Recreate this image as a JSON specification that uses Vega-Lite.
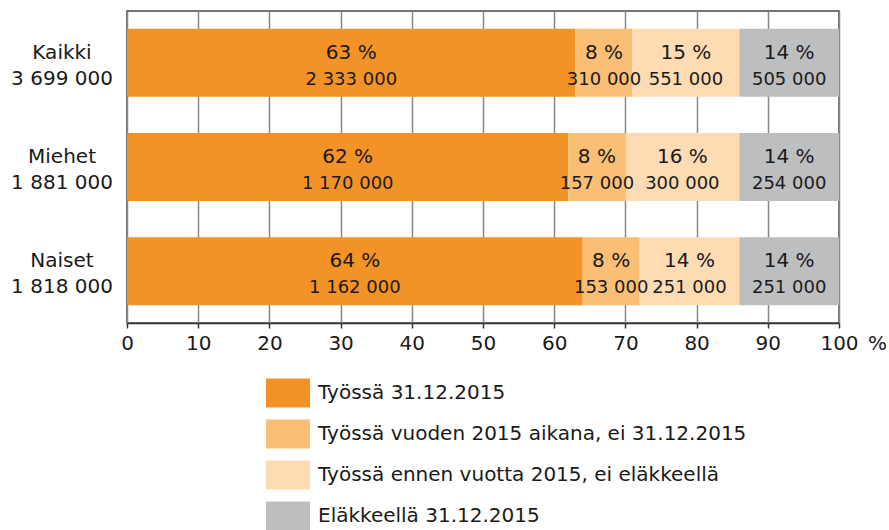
{
  "$schema": "https://vega.github.io/schema/vega-lite/v6.json",
  "width": 712,
  "height": 312,
  "autosize": {"type": "none"},
  "padding": {"left": 127, "top": 11, "right": 50, "bottom": 207},
  "config": {
    "font": "DejaVu Sans",
    "locale": {"number": {"decimal": ",", "thousands": "\u00a0", "grouping": [3], "currency": ["", "\u00a0€"]}},
    "view": {"stroke": "#444", "strokeWidth": 1.5},
    "text": {"color": "#1a1a1a"}
  },
  "data": {
    "values": [
      {"ryhma": "Kaikki", "yhteensa": 3699000, "luokka": "Työssä 31.12.2015", "j": 1, "osuus": 63, "lkm": 2333000},
      {"ryhma": "Kaikki", "yhteensa": 3699000, "luokka": "Työssä vuoden 2015 aikana, ei 31.12.2015", "j": 2, "osuus": 8, "lkm": 310000},
      {"ryhma": "Kaikki", "yhteensa": 3699000, "luokka": "Työssä ennen vuotta 2015, ei eläkkeellä", "j": 3, "osuus": 15, "lkm": 551000},
      {"ryhma": "Kaikki", "yhteensa": 3699000, "luokka": "Eläkkeellä 31.12.2015", "j": 4, "osuus": 14, "lkm": 505000},
      {"ryhma": "Miehet", "yhteensa": 1881000, "luokka": "Työssä 31.12.2015", "j": 1, "osuus": 62, "lkm": 1170000},
      {"ryhma": "Miehet", "yhteensa": 1881000, "luokka": "Työssä vuoden 2015 aikana, ei 31.12.2015", "j": 2, "osuus": 8, "lkm": 157000},
      {"ryhma": "Miehet", "yhteensa": 1881000, "luokka": "Työssä ennen vuotta 2015, ei eläkkeellä", "j": 3, "osuus": 16, "lkm": 300000},
      {"ryhma": "Miehet", "yhteensa": 1881000, "luokka": "Eläkkeellä 31.12.2015", "j": 4, "osuus": 14, "lkm": 254000},
      {"ryhma": "Naiset", "yhteensa": 1818000, "luokka": "Työssä 31.12.2015", "j": 1, "osuus": 64, "lkm": 1162000},
      {"ryhma": "Naiset", "yhteensa": 1818000, "luokka": "Työssä vuoden 2015 aikana, ei 31.12.2015", "j": 2, "osuus": 8, "lkm": 153000},
      {"ryhma": "Naiset", "yhteensa": 1818000, "luokka": "Työssä ennen vuotta 2015, ei eläkkeellä", "j": 3, "osuus": 14, "lkm": 251000},
      {"ryhma": "Naiset", "yhteensa": 1818000, "luokka": "Eläkkeellä 31.12.2015", "j": 4, "osuus": 14, "lkm": 251000}
    ]
  },
  "transform": [
    {"stack": "osuus", "groupby": ["ryhma"], "sort": [{"field": "j", "order": "ascending"}], "as": ["x0", "x1"]},
    {"calculate": "(datum.x0 + datum.x1) / 2", "as": "keski"},
    {"calculate": "datum.osuus + ' %'", "as": "osuusTeksti"}
  ],
  "encoding": {
    "y": {
      "field": "ryhma",
      "type": "nominal",
      "sort": ["Kaikki", "Miehet", "Naiset"],
      "scale": {"paddingInner": 0.346, "paddingOuter": 0.17},
      "axis": null
    }
  },
  "layer": [
    {
      "mark": {"type": "bar"},
      "encoding": {
        "x": {
          "field": "x0",
          "type": "quantitative",
          "scale": {"domain": [0, 100], "nice": false},
          "axis": {
            "values": [0, 10, 20, 30, 40, 50, 60, 70, 80, 90, 100],
            "grid": true,
            "gridColor": "#888",
            "gridWidth": 1.5,
            "domainColor": "#333",
            "domainWidth": 1.5,
            "tickColor": "#333",
            "tickWidth": 1.5,
            "tickSize": 5,
            "labelFontSize": 20,
            "labelColor": "#1a1a1a",
            "labelPadding": 5,
            "labelFlush": false,
            "title": "%",
            "titleX": 750,
            "titleY": 10,
            "titleAlign": "center",
            "titleBaseline": "top",
            "titleFontWeight": "normal",
            "titleFontSize": 20,
            "titleColor": "#1a1a1a"
          }
        },
        "x2": {"field": "x1"},
        "color": {
          "field": "luokka",
          "type": "nominal",
          "scale": {
            "domain": ["Työssä 31.12.2015", "Työssä vuoden 2015 aikana, ei 31.12.2015", "Työssä ennen vuotta 2015, ei eläkkeellä", "Eläkkeellä 31.12.2015"],
            "range": ["#F39226", "#FBBE75", "#FDDBB3", "#BDBEC0"]
          },
          "legend": {
            "title": null,
            "orient": "none",
            "legendX": 139,
            "legendY": 360,
            "padding": 0,
            "symbolType": "M-1,-0.66H1V0.66H-1Z",
            "symbolSize": 1936,
            "symbolStrokeWidth": 0,
            "symbolOpacity": 1,
            "labelFontSize": 20,
            "labelColor": "#1a1a1a",
            "labelOffset": 8,
            "labelLimit": 600,
            "rowPadding": 4
          }
        }
      }
    },
    {
      "mark": {"type": "text", "baseline": "alphabetic", "align": "center", "dy": -4, "fontSize": 20},
      "encoding": {
        "x": {"field": "keski", "type": "quantitative"},
        "text": {"field": "osuusTeksti", "type": "nominal"}
      }
    },
    {
      "mark": {"type": "text", "baseline": "alphabetic", "align": "center", "dy": 22, "fontSize": 18},
      "encoding": {
        "x": {"field": "keski", "type": "quantitative"},
        "text": {"field": "lkm", "type": "quantitative", "format": ","}
      }
    },
    {
      "transform": [{"filter": "datum.j == 1"}],
      "mark": {"type": "text", "baseline": "alphabetic", "align": "center", "dx": -65, "dy": -4, "fontSize": 20},
      "encoding": {
        "x": {"datum": 0, "type": "quantitative"},
        "text": {"field": "ryhma", "type": "nominal"}
      }
    },
    {
      "transform": [{"filter": "datum.j == 1"}],
      "mark": {"type": "text", "baseline": "alphabetic", "align": "center", "dx": -65, "dy": 22, "fontSize": 20},
      "encoding": {
        "x": {"datum": 0, "type": "quantitative"},
        "text": {"field": "yhteensa", "type": "quantitative", "format": ","}
      }
    }
  ]
}
